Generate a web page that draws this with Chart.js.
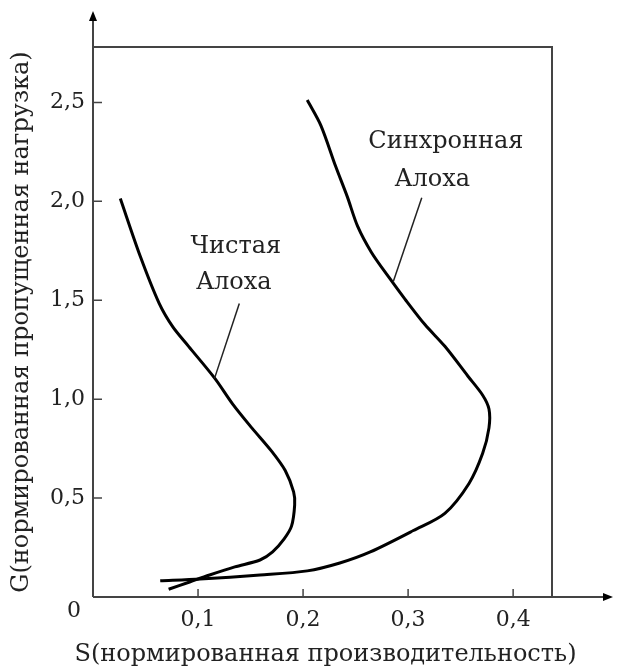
<!DOCTYPE html>
<html>
<head>
<meta charset="utf-8">
<script src="https://cdn.jsdelivr.net/npm/chart.js@4.4.1/dist/chart.umd.min.js"></script>
<style>
  html, body { margin: 0; padding: 0; background: #fff; }
  canvas { display: block; }
</style>
</head>
<body>
<canvas id="alohaChart" width="617" height="671"></canvas>
<script>
// values: S (throughput) and G (offered load)
const pureS = [0.072, 0.092, 0.111, 0.135, 0.159, 0.171, 0.182, 0.189, 0.192, 0.191, 0.183, 0.170, 0.151, 0.133, 0.116, 0.091, 0.076, 0.063, 0.045, 0.026];
const pureG = [0.039, 0.076, 0.111, 0.152, 0.187, 0.228, 0.294, 0.358, 0.466, 0.531, 0.639, 0.737, 0.856, 0.975, 1.105, 1.267, 1.365, 1.484, 1.722, 2.014];

const slottedS = [0.064, 0.102, 0.159, 0.204, 0.235, 0.264, 0.305, 0.335, 0.358, 0.371, 0.377, 0.377, 0.371, 0.357, 0.335, 0.316, 0.297, 0.282, 0.265, 0.252, 0.242, 0.231, 0.217, 0.204];
const slottedG = [0.082, 0.091, 0.111, 0.132, 0.172, 0.228, 0.336, 0.423, 0.574, 0.726, 0.855, 0.950, 1.020, 1.116, 1.267, 1.377, 1.506, 1.614, 1.743, 1.873, 2.025, 2.177, 2.383, 2.512];

const xTicks = [0.1, 0.2, 0.3, 0.4];
const xTickLabels = ['0,1', '0,2', '0,3', '0,4'];
const yTicks = [0.5, 1.0, 1.5, 2.0, 2.5];
const yTickLabels = ['0,5', '1,0', '1,5', '2,0', '2,5'];

const xTitle = 'S(нормированная производительность)';
const yTitle = 'G(нормированная пропущенная нагрузка)';

// curve captions with leader lines, in data units
const captions = [
  { lines: ['Синхронная', 'Алоха'], at: [[0.336, 2.303], [0.323, 2.110]], leader: [[0.313, 2.018], [0.286, 1.596]] },
  { lines: ['Чистая', 'Алоха'], at: [[0.136, 1.771], [0.134, 1.589]], leader: [[0.1393, 1.484], [0.1157, 1.105]] }
];

const FONT = "'DejaVu Serif', serif";
const AXIS_COLOR = '#444';

function zip(xs, ys) {
  return xs.map((x, i) => ({ x: x, y: ys[i] }));
}

// axes with arrows, frame, inward ticks, origin label, x title and captions
const decorations = {
  id: 'decorations',
  afterDraw(chart) {
    const ctx = chart.ctx;
    const area = chart.chartArea;
    const xs = chart.scales.x;
    const ys = chart.scales.y;
    ctx.save();

    // frame (top and right sides)
    ctx.strokeStyle = AXIS_COLOR;
    ctx.lineWidth = 2;
    ctx.beginPath();
    ctx.moveTo(area.left, area.top);
    ctx.lineTo(area.right, area.top);
    ctx.lineTo(area.right, area.bottom);
    ctx.stroke();

    // axes extended past the frame
    ctx.beginPath();
    ctx.moveTo(area.left, area.bottom);
    ctx.lineTo(area.left, 14);
    ctx.moveTo(area.left, area.bottom);
    ctx.lineTo(610, area.bottom);
    ctx.stroke();

    ctx.fillStyle = '#000';
    ctx.beginPath();
    ctx.moveTo(area.left, 11);
    ctx.lineTo(area.left - 4, 21);
    ctx.lineTo(area.left + 4, 21);
    ctx.closePath();
    ctx.fill();
    ctx.beginPath();
    ctx.moveTo(613, area.bottom);
    ctx.lineTo(603, area.bottom - 4);
    ctx.lineTo(603, area.bottom + 4);
    ctx.closePath();
    ctx.fill();

    // inward tick marks
    ctx.strokeStyle = AXIS_COLOR;
    ctx.lineWidth = 1.5;
    ctx.beginPath();
    xTicks.forEach(v => {
      const px = xs.getPixelForValue(v);
      ctx.moveTo(px, area.bottom);
      ctx.lineTo(px, area.bottom - 8);
    });
    yTicks.forEach(v => {
      const py = ys.getPixelForValue(v);
      ctx.moveTo(area.left, py);
      ctx.lineTo(area.left + 9, py);
    });
    ctx.stroke();

    // origin label
    ctx.fillStyle = '#222';
    ctx.font = '22px ' + FONT;
    ctx.textAlign = 'center';
    ctx.textBaseline = 'middle';
    ctx.fillText('0', area.left - 19, area.bottom + 14);

    // x axis title (drawn here so it is not squeezed to the plot width)
    ctx.font = '24px ' + FONT;
    ctx.fillText(xTitle, (area.left + area.right) / 2 + 3, area.bottom + 58);

    // captions
    captions.forEach(c => {
      c.lines.forEach((t, i) => {
        ctx.fillText(t, xs.getPixelForValue(c.at[i][0]), ys.getPixelForValue(c.at[i][1]));
      });
      ctx.strokeStyle = '#222';
      ctx.lineWidth = 1.5;
      ctx.beginPath();
      ctx.moveTo(xs.getPixelForValue(c.leader[0][0]), ys.getPixelForValue(c.leader[0][1]));
      ctx.lineTo(xs.getPixelForValue(c.leader[1][0]), ys.getPixelForValue(c.leader[1][1]));
      ctx.stroke();
    });

    ctx.restore();
  }
};

new Chart(document.getElementById('alohaChart'), {
  type: 'scatter',
  data: {
    datasets: [
      {
        label: 'Чистая Алоха',
        data: zip(pureS, pureG),
        showLine: true,
        borderColor: '#000',
        borderWidth: 3,
        pointRadius: 0,
        tension: 0.3
      },
      {
        label: 'Синхронная Алоха',
        data: zip(slottedS, slottedG),
        showLine: true,
        borderColor: '#000',
        borderWidth: 3,
        pointRadius: 0,
        tension: 0.3
      }
    ]
  },
  options: {
    responsive: false,
    animation: false,
    layout: { padding: { top: 47, right: 65, left: 0, bottom: 0 } },
    plugins: {
      legend: { display: false },
      tooltip: { enabled: false }
    },
    scales: {
      x: {
        type: 'linear',
        min: 0,
        max: 0.437,
        afterFit(scale) { scale.height = 74; },
        afterBuildTicks(scale) { scale.ticks = xTicks.map(v => ({ value: v })); },
        grid: { display: false, drawTicks: false },
        border: { display: false },
        ticks: {
          padding: 10,
          color: '#222',
          font: { family: FONT, size: 22 },
          maxRotation: 0,
          callback: (v, i) => xTickLabels[i]
        },
        title: { display: false }
      },
      y: {
        type: 'linear',
        min: 0,
        max: 2.78,
        afterFit(scale) { scale.width = 93; },
        afterBuildTicks(scale) { scale.ticks = yTicks.map(v => ({ value: v })); },
        grid: { display: false, drawTicks: false },
        border: { display: false },
        ticks: {
          padding: 8,
          color: '#222',
          font: { family: FONT, size: 22 },
          callback: (v, i) => yTickLabels[i]
        },
        title: {
          display: true,
          text: yTitle,
          color: '#222',
          font: { family: FONT, size: 24 },
          padding: { top: 7, bottom: 0 }
        }
      }
    }
  },
  plugins: [decorations]
});
</script>
</body>
</html>
